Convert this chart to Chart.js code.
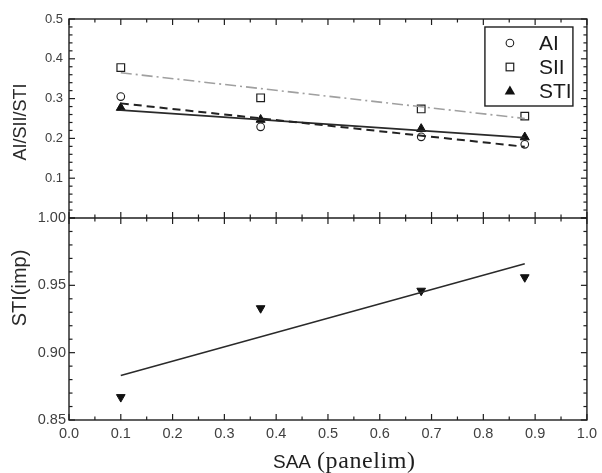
<!DOCTYPE html>
<html><head><meta charset="utf-8">
<script src="https://cdn.jsdelivr.net/npm/chart.js@4.4.1/dist/chart.umd.min.js"></script>
<style>html,body{margin:0;padding:0;background:#fff;} canvas{display:block;}</style>
</head><body>
<canvas id="c" width="602" height="473"></canvas>
<script>
// ---- data ----
const xValues = [0.1, 0.37, 0.68, 0.88];
const aiValues = [0.305, 0.229, 0.204, 0.185];
const siiValues = [0.378, 0.302, 0.274, 0.256];
const stiValues = [0.277, 0.247, 0.224, 0.203];
const stiImpValues = [0.867, 0.933, 0.946, 0.956];
const fitX = [0.1, 0.88];
const aiFit = [0.288, 0.179];
const siiFit = [0.365, 0.250];
const stiFit = [0.271, 0.202];
const stiImpFit = [0.883, 0.966];
const xTickLabels = ['0.0','0.1','0.2','0.3','0.4','0.5','0.6','0.7','0.8','0.9','1.0'];
const topTickLabels = ['0.1','0.2','0.3','0.4','0.5'];
const bottomTickLabels = ['0.85','0.90','0.95','1.00'];
const legendLabels = ['AI','SII','STI'];
const topTitle = 'AI/SII/STI';
const bottomTitle = 'STI(imp)';
const xTitleA = 'SAA';
const xTitleB = '(panelim)';

const pts = (xs, ys) => xs.map((x, i) => ({x: x, y: ys[i]}));
const INK = '#1e1e1e';

const datasets = [
  {label: 'AI fit', data: pts(fitX, aiFit), yAxisID: 'yT', showLine: true, pointRadius: 0,
   borderColor: '#222', borderWidth: 2, borderDash: [8, 5]},
  {label: 'SII fit', data: pts(fitX, siiFit), yAxisID: 'yT', showLine: true, pointRadius: 0,
   borderColor: '#a0a0a0', borderWidth: 1.6, borderDash: [11, 4, 2, 4]},
  {label: 'STI fit', data: pts(fitX, stiFit), yAxisID: 'yT', showLine: true, pointRadius: 0,
   borderColor: '#2a2a2a', borderWidth: 1.6},
  {label: legendLabels[0], data: pts(xValues, aiValues), yAxisID: 'yT', pointStyle: 'circle',
   pointRadius: 3.8, backgroundColor: '#fff', borderColor: INK, borderWidth: 1.1},
  {label: legendLabels[1], data: pts(xValues, siiValues), yAxisID: 'yT', pointStyle: 'rect',
   pointRadius: 5.4, backgroundColor: '#fff', borderColor: INK, borderWidth: 1.2},
  {label: legendLabels[2], data: pts(xValues, stiValues), yAxisID: 'yT', pointStyle: 'triangle',
   pointRadius: 5.2, backgroundColor: '#111', borderColor: '#111', borderWidth: 1},
  {label: 'STI(imp) fit', data: pts(fitX, stiImpFit), yAxisID: 'yB', showLine: true, pointRadius: 0,
   borderColor: '#2a2a2a', borderWidth: 1.5},
  {label: 'STI(imp)', data: pts(xValues, stiImpValues), yAxisID: 'yB', pointStyle: 'triangle',
   rotation: 180, pointRadius: 5, backgroundColor: '#111', borderColor: '#111', borderWidth: 1}
];

function line(ctx, x1, y1, x2, y2) { ctx.beginPath(); ctx.moveTo(x1, y1); ctx.lineTo(x2, y2); ctx.stroke(); }

const decor = {
  id: 'decor',
  afterDraw(chart) {
    const ctx = chart.ctx;
    const xs = chart.scales.x, yT = chart.scales.yT, yB = chart.scales.yB;
    const L = xs.left, R = xs.right;
    const tTop = yT.top, mid = yT.bottom, bBot = yB.bottom;
    ctx.save();
    ctx.strokeStyle = INK;
    ctx.lineWidth = 1.4;
    ctx.strokeRect(L, tTop, R - L, bBot - tTop);
    line(ctx, L, mid, R, mid);
    ctx.lineWidth = 1.2;
    // x ticks
    for (let i = 0; i <= 20; i++) {
      const v = i / 20, px = xs.getPixelForValue(v), major = i % 2 === 0;
      const len = major ? 6 : 3.5;
      line(ctx, px, tTop, px, tTop + len);
      line(ctx, px, mid - len, px, mid + len);
      line(ctx, px, bBot, px, bBot - len);
    }
    // top panel y ticks
    for (let i = 0; i <= 25; i++) {
      const v = i * 0.02, py = yT.getPixelForValue(v), major = i % 5 === 0;
      const len = major ? 6 : 3.5;
      line(ctx, L, py, L + len, py);
      line(ctx, R, py, R - len, py);
    }
    // bottom panel y ticks
    for (let i = 0; i <= 15; i++) {
      const v = 0.85 + i * 0.01, py = yB.getPixelForValue(v), major = i % 5 === 0;
      const len = major ? 6 : 3.5;
      line(ctx, L, py, L + len, py);
      line(ctx, R, py, R - len, py);
    }
    // axis titles
    ctx.fillStyle = '#2a2a2a';
    ctx.textAlign = 'center';
    ctx.textBaseline = 'middle';
    ctx.save();
    ctx.translate(21, 122);
    ctx.rotate(-Math.PI / 2);
    ctx.font = '18px "Liberation Sans", Arial, sans-serif';
    ctx.fillText(topTitle, 0, 0);
    ctx.restore();
    ctx.save();
    ctx.translate(20, 288);
    ctx.rotate(-Math.PI / 2);
    ctx.font = '20px "Liberation Sans", Arial, sans-serif';
    ctx.fillText(bottomTitle, 0, 0);
    ctx.restore();
    // x title
    ctx.textAlign = 'left';
    ctx.textBaseline = 'alphabetic';
    ctx.fillStyle = '#1e1e1e';
    ctx.font = '19px "Liberation Sans", Arial, sans-serif';
    ctx.fillText(xTitleA, 273, 468);
    ctx.font = '24px "Liberation Serif", "Times New Roman", serif';
    ctx.letterSpacing = '0.6px';
    ctx.fillText(xTitleB, 317, 468);
    ctx.letterSpacing = '0px';
    // legend
    const bx = R - 102, by = tTop + 8, bw = 88, bh = 79;
    ctx.lineWidth = 1.4;
    ctx.strokeStyle = INK;
    ctx.strokeRect(bx, by, bw, bh);
    const mx = bx + 25, tx = bx + 54;
    const rows = [by + 16, by + 40, by + 64];
    ctx.font = '21px "Liberation Sans", Arial, sans-serif';
    ctx.textBaseline = 'middle';
    ctx.fillStyle = '#1a1a1a';
    legendLabels.forEach((lab, i) => ctx.fillText(lab, tx, rows[i] + 1));
    ctx.lineWidth = 1.1;
    ctx.beginPath(); ctx.arc(mx, rows[0], 3.8, 0, Math.PI * 2); ctx.stroke();
    ctx.lineWidth = 1.2;
    ctx.strokeRect(mx - 3.8, rows[1] - 3.8, 7.6, 7.6);
    ctx.fillStyle = '#111';
    ctx.beginPath();
    ctx.moveTo(mx, rows[2] - 5.5); ctx.lineTo(mx + 5.2, rows[2] + 3.5); ctx.lineTo(mx - 5.2, rows[2] + 3.5);
    ctx.closePath(); ctx.fill();
    ctx.restore();
  }
};

const fam = '"Liberation Sans", Arial, sans-serif';
const TICK = '#404040';

new Chart(document.getElementById('c'), {
  type: 'scatter',
  data: {datasets: datasets},
  options: {
    responsive: false,
    animation: false,
    events: [],
    layout: {padding: {top: 19, right: 9, left: 0, bottom: 0}},
    plugins: {legend: {display: false}, tooltip: {enabled: false}},
    scales: {
      x: {
        type: 'linear', min: 0, max: 1,
        grid: {display: false, drawTicks: false}, border: {display: false},
        afterBuildTicks: s => { s.ticks = xTickLabels.map(t => ({value: parseFloat(t)})); },
        ticks: {padding: 5, font: {family: fam, size: 14.5}, color: TICK, maxRotation: 0, autoSkip: false,
          callback: (v, i) => xTickLabels[i]},
        afterFit: s => { s.height = 53; }
      },
      yB: {
        type: 'linear', position: 'left', stack: 'panels', stackWeight: 202,
        min: 0.85, max: 1.0,
        grid: {display: false, drawTicks: false}, border: {display: false},
        afterBuildTicks: s => { s.ticks = bottomTickLabels.map(t => ({value: parseFloat(t)})); },
        ticks: {padding: 3, font: {family: fam, size: 14.5}, color: TICK, callback: (v, i) => bottomTickLabels[i]},
        afterFit: s => { s.width = 69; }
      },
      yT: {
        type: 'linear', position: 'left', stack: 'panels', stackWeight: 199,
        min: 0, max: 0.5,
        grid: {display: false, drawTicks: false}, border: {display: false},
        afterBuildTicks: s => { s.ticks = topTickLabels.map(t => ({value: parseFloat(t)})); },
        ticks: {padding: 6, font: {family: fam, size: 13}, color: TICK, callback: (v, i) => topTickLabels[i]},
        afterFit: s => { s.width = 69; }
      }
    }
  },
  plugins: [decor]
});
</script>
</body></html>
